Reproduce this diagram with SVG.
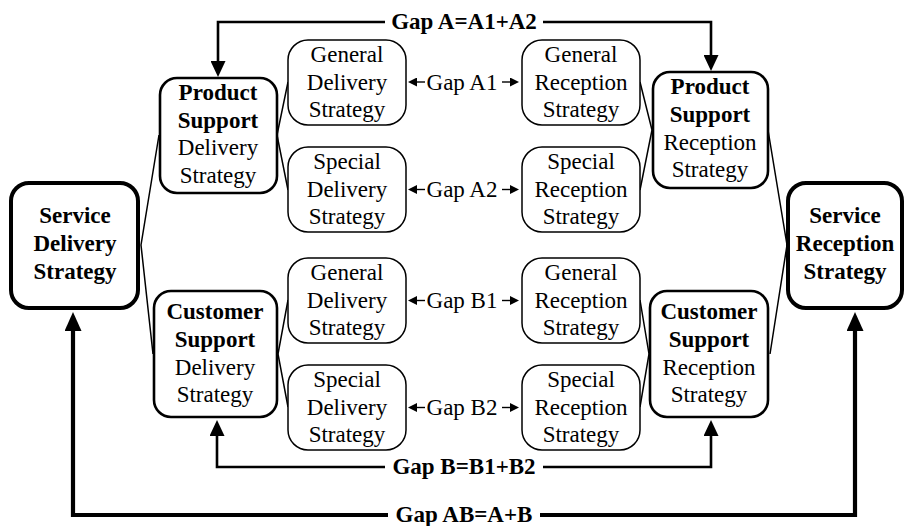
<svg xmlns="http://www.w3.org/2000/svg" width="908" height="526" viewBox="0 0 908 526">
<style>
text{font-family:"Liberation Serif","Times New Roman",serif;font-size:23px;fill:#000;text-anchor:middle}
.b{font-weight:bold}
.big{fill:#fff;stroke:#000;stroke-width:4}
.mid{fill:#fff;stroke:#000;stroke-width:2.6}
.sm{fill:#fff;stroke:#000;stroke-width:1.5}
.thin{fill:none;stroke:#000;stroke-width:1.5}
.gap{fill:none;stroke:#000;stroke-width:1.4}
.ga{fill:none;stroke:#000;stroke-width:2.6}
.gab{fill:none;stroke:#000;stroke-width:4.2}
</style>
<defs>
<marker id="ah" markerUnits="userSpaceOnUse" markerWidth="16" markerHeight="15" refX="8" refY="7.5" orient="auto" viewBox="0 0 16 15"><path d="M0,0 L16,7.5 L0,15 z" fill="#000"/></marker>
<marker id="ahb" markerUnits="userSpaceOnUse" markerWidth="19" markerHeight="17" refX="10" refY="8.5" orient="auto" viewBox="0 0 19 17"><path d="M0,0 L19,8.5 L0,17 z" fill="#000"/></marker>
<marker id="ahs" markerUnits="userSpaceOnUse" markerWidth="9" markerHeight="9" refX="5" refY="4.5" orient="auto" viewBox="0 0 9 9"><path d="M0,0 L9,4.5 L0,9 z" fill="#000"/></marker>
</defs>
<g id="connectors">
<path class="thin" d="M159,135 L141,245 L153,354"/>
<path class="thin" d="M768,130 L787,245 L770,354"/>
<path class="thin" d="M288,82 L277,135 L288,190"/>
<path class="thin" d="M288,300 L278,354 L288,407"/>
<path class="thin" d="M640,82 L652,130 L640,190"/>
<path class="thin" d="M640,300 L649,354 L640,407"/>
<path class="gap" d="M425,82 H412" marker-end="url(#ahs)"/>
<path class="gap" d="M502,82 H515" marker-end="url(#ahs)"/>
<path class="gap" d="M425,189.5 H412" marker-end="url(#ahs)"/>
<path class="gap" d="M502,189.5 H515" marker-end="url(#ahs)"/>
<path class="gap" d="M425,300.5 H412" marker-end="url(#ahs)"/>
<path class="gap" d="M502,300.5 H515" marker-end="url(#ahs)"/>
<path class="gap" d="M425,407.5 H412" marker-end="url(#ahs)"/>
<path class="gap" d="M502,407.5 H515" marker-end="url(#ahs)"/>
<text x="462" y="90">Gap A1</text>
<text x="462" y="197">Gap A2</text>
<text x="462" y="308">Gap B1</text>
<text x="462" y="415">Gap B2</text>
<path class="ga" d="M385,22 H218 V69" marker-end="url(#ah)"/>
<path class="ga" d="M543,22 H711 V63" marker-end="url(#ah)"/>
<text class="b" x="464" y="29">Gap A=A1+A2</text>
<path class="ga" d="M385,467 H217 V428" marker-end="url(#ah)"/>
<path class="ga" d="M543,467 H711 V428" marker-end="url(#ah)"/>
<text class="b" x="464" y="474">Gap B=B1+B2</text>
<path class="gab" d="M388,515 H73 V321" marker-end="url(#ahb)"/>
<path class="gab" d="M540,515 H855 V321" marker-end="url(#ahb)"/>
<text class="b" x="464" y="522">Gap AB=A+B</text>
</g>
<g id="service-delivery">
<rect class="big" x="11" y="183" width="127" height="125" rx="18"/>
<text class="b" x="75" y="223">Service</text>
<text class="b" x="75" y="251">Delivery</text>
<text class="b" x="75" y="279">Strategy</text>
</g>
<g id="service-reception">
<rect class="big" x="788" y="183" width="114" height="125" rx="18"/>
<text class="b" x="845" y="223">Service</text>
<text class="b" x="845" y="251">Reception</text>
<text class="b" x="845" y="279">Strategy</text>
</g>
<g id="product-support-delivery">
<rect class="mid" x="160" y="78" width="117" height="115" rx="17"/>
<text class="b" x="218" y="100">Product</text>
<text class="b" x="218" y="128">Support</text>
<text x="218" y="155">Delivery</text>
<text x="218" y="183">Strategy</text>
</g>
<g id="product-support-reception">
<rect class="mid" x="653" y="72" width="115" height="116" rx="17"/>
<text class="b" x="710" y="94">Product</text>
<text class="b" x="710" y="122">Support</text>
<text x="710" y="150">Reception</text>
<text x="710" y="177">Strategy</text>
</g>
<g id="customer-support-delivery">
<rect class="mid" x="154" y="291" width="123" height="126" rx="17"/>
<text class="b" x="215" y="319">Customer</text>
<text class="b" x="215" y="347">Support</text>
<text x="215" y="375">Delivery</text>
<text x="215" y="402">Strategy</text>
</g>
<g id="customer-support-reception">
<rect class="mid" x="650" y="291" width="118" height="126" rx="17"/>
<text class="b" x="709" y="319">Customer</text>
<text class="b" x="709" y="347">Support</text>
<text x="709" y="375">Reception</text>
<text x="709" y="402">Strategy</text>
</g>
<g id="general-delivery-a">
<rect class="sm" x="288" y="40" width="118" height="85" rx="20"/>
<text x="347" y="62">General</text>
<text x="347" y="89.5">Delivery</text>
<text x="347" y="117">Strategy</text>
</g>
<g id="special-delivery-a">
<rect class="sm" x="288" y="147" width="118" height="85" rx="20"/>
<text x="347" y="169">Special</text>
<text x="347" y="196.5">Delivery</text>
<text x="347" y="224">Strategy</text>
</g>
<g id="general-reception-a">
<rect class="sm" x="522" y="40" width="118" height="85" rx="20"/>
<text x="581" y="62">General</text>
<text x="581" y="89.5">Reception</text>
<text x="581" y="117">Strategy</text>
</g>
<g id="special-reception-a">
<rect class="sm" x="522" y="147" width="118" height="85" rx="20"/>
<text x="581" y="169">Special</text>
<text x="581" y="196.5">Reception</text>
<text x="581" y="224">Strategy</text>
</g>
<g id="general-delivery-b">
<rect class="sm" x="288" y="258" width="118" height="85" rx="20"/>
<text x="347" y="280">General</text>
<text x="347" y="307.5">Delivery</text>
<text x="347" y="335">Strategy</text>
</g>
<g id="special-delivery-b">
<rect class="sm" x="288" y="365" width="118" height="85" rx="20"/>
<text x="347" y="387">Special</text>
<text x="347" y="414.5">Delivery</text>
<text x="347" y="442">Strategy</text>
</g>
<g id="general-reception-b">
<rect class="sm" x="522" y="258" width="118" height="85" rx="20"/>
<text x="581" y="280">General</text>
<text x="581" y="307.5">Reception</text>
<text x="581" y="335">Strategy</text>
</g>
<g id="special-reception-b">
<rect class="sm" x="522" y="365" width="118" height="85" rx="20"/>
<text x="581" y="387">Special</text>
<text x="581" y="414.5">Reception</text>
<text x="581" y="442">Strategy</text>
</g>
</svg>
